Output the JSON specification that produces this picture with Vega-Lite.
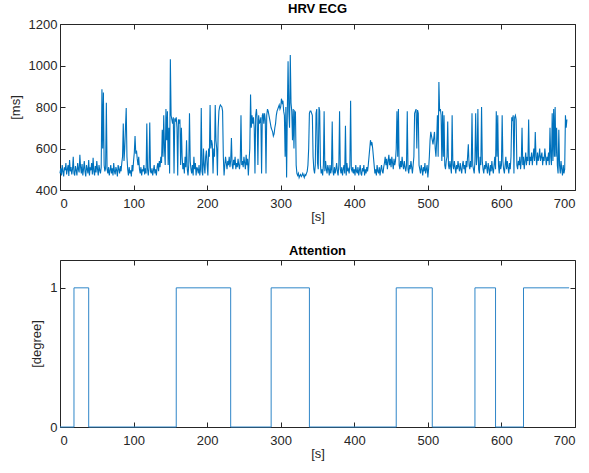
{
  "$schema": "https://vega.github.io/schema/vega-lite/v6.json",
  "padding": {"left": 8, "top": 2, "right": 3, "bottom": 3},
  "background": "white",
  "config": {
    "view": {"stroke": "#262626", "strokeWidth": 1},
    "font": "Liberation Sans",
    "axis": {"domain": false, "grid": false, "tickSize": -5, "tickColor": "#262626", "labelColor": "#262626", "labelFont": "Liberation Sans", "labelFontSize": 13, "labelPadding": 8, "titleFont": "Liberation Sans", "titleFontSize": 13, "titleFontWeight": "normal", "titleColor": "#262626", "titlePadding": 6},
    "axisX": {"labelPadding": 12, "titlePadding": 0},
    "title": {"font": "Liberation Sans", "fontSize": 13, "fontWeight": "bold", "color": "#000000", "offset": 2}
  },
  "spacing": 20,
  "datasets": {
    "hrv": [
{"t":0,"v":480},{"t":1,"v":505},{"t":2,"v":470},{"t":3,"v":520},{"t":4,"v":490},{"t":5,"v":465},{"t":6,"v":510},{"t":7,"v":495},{"t":8,"v":530},{"t":9,"v":475},
{"t":10,"v":500},{"t":11,"v":520},{"t":12,"v":468},{"t":13,"v":545},{"t":14,"v":490},{"t":15,"v":510},{"t":16,"v":475},{"t":17,"v":500},{"t":18,"v":560},{"t":19,"v":480},
{"t":20,"v":470},{"t":21,"v":515},{"t":22,"v":495},{"t":23,"v":470},{"t":24,"v":530},{"t":25,"v":500},{"t":26,"v":485},{"t":27,"v":570},{"t":28,"v":510},{"t":29,"v":480},
{"t":30,"v":525},{"t":31,"v":470},{"t":32,"v":500},{"t":33,"v":540},{"t":34,"v":490},{"t":35,"v":465},{"t":36,"v":520},{"t":37,"v":500},{"t":38,"v":480},{"t":39,"v":545},
{"t":40,"v":470},{"t":41,"v":510},{"t":42,"v":495},{"t":43,"v":530},{"t":44,"v":475},{"t":45,"v":555},{"t":46,"v":490},{"t":47,"v":470},{"t":48,"v":515},{"t":49,"v":485},
{"t":50,"v":540},{"t":51,"v":500},{"t":52,"v":470},{"t":53,"v":520},{"t":54,"v":495},{"t":55,"v":480},{"t":56,"v":510},{"t":57,"v":885},{"t":58,"v":600},{"t":59,"v":870},
{"t":60,"v":520},{"t":61,"v":490},{"t":62,"v":505},{"t":63,"v":820},{"t":64,"v":500},{"t":65,"v":480},{"t":66,"v":510},{"t":67,"v":470},{"t":68,"v":495},{"t":69,"v":520},
{"t":70,"v":480},{"t":71,"v":505},{"t":72,"v":470},{"t":73,"v":530},{"t":74,"v":490},{"t":75,"v":475},{"t":76,"v":510},{"t":77,"v":495},{"t":78,"v":465},{"t":79,"v":520},
{"t":80,"v":500},{"t":81,"v":480},{"t":82,"v":515},{"t":83,"v":490},{"t":84,"v":530},{"t":85,"v":560},{"t":86,"v":720},{"t":87,"v":540},{"t":88,"v":600},{"t":89,"v":700},
{"t":90,"v":795},{"t":91,"v":560},{"t":92,"v":500},{"t":93,"v":470},{"t":94,"v":510},{"t":95,"v":480},{"t":96,"v":495},{"t":97,"v":465},{"t":98,"v":520},{"t":99,"v":490},
{"t":100,"v":540},{"t":101,"v":580},{"t":102,"v":660},{"t":103,"v":575},{"t":104,"v":590},{"t":105,"v":550},{"t":106,"v":520},{"t":107,"v":560},{"t":108,"v":500},{"t":109,"v":480},
{"t":110,"v":510},{"t":111,"v":470},{"t":112,"v":500},{"t":113,"v":490},{"t":114,"v":520},{"t":115,"v":475},{"t":116,"v":505},{"t":117,"v":480},{"t":118,"v":720},{"t":119,"v":500},
{"t":120,"v":470},{"t":121,"v":510},{"t":122,"v":725},{"t":123,"v":490},{"t":124,"v":480},{"t":125,"v":505},{"t":126,"v":470},{"t":127,"v":495},{"t":128,"v":520},{"t":129,"v":480},
{"t":130,"v":500},{"t":131,"v":470},{"t":132,"v":510},{"t":133,"v":530},{"t":134,"v":490},{"t":135,"v":540},{"t":136,"v":510},{"t":137,"v":560},{"t":138,"v":530},{"t":139,"v":690},
{"t":140,"v":560},{"t":141,"v":760},{"t":142,"v":600},{"t":143,"v":520},{"t":144,"v":790},{"t":145,"v":640},{"t":146,"v":780},{"t":147,"v":520},{"t":148,"v":700},{"t":149,"v":480},
{"t":150,"v":1030},{"t":151,"v":760},{"t":152,"v":740},{"t":153,"v":720},{"t":154,"v":750},{"t":155,"v":480},{"t":156,"v":745},{"t":157,"v":730},{"t":158,"v":750},{"t":159,"v":700},
{"t":160,"v":470},{"t":161,"v":740},{"t":162,"v":720},{"t":163,"v":740},{"t":164,"v":520},{"t":165,"v":700},{"t":166,"v":560},{"t":167,"v":500},{"t":168,"v":530},{"t":169,"v":480},
{"t":170,"v":560},{"t":171,"v":510},{"t":172,"v":640},{"t":173,"v":500},{"t":174,"v":470},{"t":175,"v":520},{"t":176,"v":770},{"t":177,"v":540},{"t":178,"v":500},{"t":179,"v":480},
{"t":180,"v":520},{"t":181,"v":470},{"t":182,"v":560},{"t":183,"v":500},{"t":184,"v":530},{"t":185,"v":470},{"t":186,"v":510},{"t":187,"v":500},{"t":188,"v":480},{"t":189,"v":520},
{"t":190,"v":470},{"t":191,"v":500},{"t":192,"v":795},{"t":193,"v":490},{"t":194,"v":470},{"t":195,"v":600},{"t":196,"v":520},{"t":197,"v":480},{"t":198,"v":560},{"t":199,"v":590},
{"t":200,"v":520},{"t":201,"v":470},{"t":202,"v":600},{"t":203,"v":560},{"t":204,"v":810},{"t":205,"v":600},{"t":206,"v":640},{"t":207,"v":620},{"t":208,"v":480},{"t":209,"v":600},
{"t":210,"v":560},{"t":211,"v":810},{"t":212,"v":640},{"t":213,"v":600},{"t":214,"v":470},{"t":215,"v":700},{"t":216,"v":780},{"t":217,"v":800},{"t":218,"v":810},{"t":219,"v":805},
{"t":220,"v":800},{"t":221,"v":780},{"t":222,"v":560},{"t":223,"v":470},{"t":224,"v":520},{"t":225,"v":560},{"t":226,"v":530},{"t":227,"v":500},{"t":228,"v":540},{"t":229,"v":520},
{"t":230,"v":560},{"t":231,"v":510},{"t":232,"v":540},{"t":233,"v":650},{"t":234,"v":520},{"t":235,"v":500},{"t":236,"v":545},{"t":237,"v":520},{"t":238,"v":560},{"t":239,"v":500},
{"t":240,"v":530},{"t":241,"v":510},{"t":242,"v":550},{"t":243,"v":520},{"t":244,"v":500},{"t":245,"v":540},{"t":246,"v":760},{"t":247,"v":520},{"t":248,"v":540},{"t":249,"v":510},
{"t":250,"v":560},{"t":251,"v":530},{"t":252,"v":500},{"t":253,"v":570},{"t":254,"v":520},{"t":255,"v":550},{"t":256,"v":470},{"t":257,"v":540},{"t":258,"v":600},{"t":259,"v":860},
{"t":260,"v":700},{"t":261,"v":760},{"t":262,"v":720},{"t":263,"v":750},{"t":264,"v":700},{"t":265,"v":480},{"t":266,"v":760},{"t":267,"v":790},{"t":268,"v":740},{"t":269,"v":520},
{"t":270,"v":760},{"t":271,"v":720},{"t":272,"v":730},{"t":273,"v":750},{"t":274,"v":480},{"t":275,"v":760},{"t":276,"v":770},{"t":277,"v":720},{"t":278,"v":770},{"t":279,"v":740},
{"t":280,"v":480},{"t":281,"v":760},{"t":282,"v":790},{"t":283,"v":780},{"t":284,"v":760},{"t":285,"v":740},{"t":286,"v":720},{"t":287,"v":700},{"t":288,"v":690},{"t":289,"v":680},
{"t":290,"v":660},{"t":291,"v":670},{"t":292,"v":700},{"t":293,"v":720},{"t":294,"v":760},{"t":295,"v":780},{"t":296,"v":790},{"t":297,"v":800},{"t":298,"v":810},{"t":299,"v":790},
{"t":300,"v":800},{"t":301,"v":840},{"t":302,"v":820},{"t":303,"v":830},{"t":304,"v":780},{"t":305,"v":760},{"t":306,"v":560},{"t":307,"v":800},{"t":308,"v":460},{"t":309,"v":780},
{"t":310,"v":1020},{"t":311,"v":780},{"t":312,"v":700},{"t":313,"v":1050},{"t":314,"v":820},{"t":315,"v":780},{"t":316,"v":640},{"t":317,"v":790},{"t":318,"v":600},{"t":319,"v":780},
{"t":320,"v":775},{"t":321,"v":520},{"t":322,"v":480},{"t":323,"v":470},{"t":324,"v":480},{"t":325,"v":460},{"t":326,"v":470},{"t":327,"v":475},{"t":328,"v":465},{"t":329,"v":470},
{"t":330,"v":480},{"t":331,"v":470},{"t":332,"v":460},{"t":333,"v":475},{"t":334,"v":470},{"t":335,"v":480},{"t":336,"v":490},{"t":337,"v":520},{"t":338,"v":600},{"t":339,"v":770},
{"t":340,"v":780},{"t":341,"v":780},{"t":342,"v":770},{"t":343,"v":760},{"t":344,"v":560},{"t":345,"v":500},{"t":346,"v":480},{"t":347,"v":520},{"t":348,"v":770},{"t":349,"v":790},
{"t":350,"v":530},{"t":351,"v":500},{"t":352,"v":800},{"t":353,"v":780},{"t":354,"v":520},{"t":355,"v":480},{"t":356,"v":500},{"t":357,"v":470},{"t":358,"v":520},{"t":359,"v":780},
{"t":360,"v":490},{"t":361,"v":540},{"t":362,"v":500},{"t":363,"v":480},{"t":364,"v":520},{"t":365,"v":500},{"t":366,"v":470},{"t":367,"v":520},{"t":368,"v":480},{"t":369,"v":500},
{"t":370,"v":730},{"t":371,"v":490},{"t":372,"v":470},{"t":373,"v":510},{"t":374,"v":480},{"t":375,"v":500},{"t":376,"v":530},{"t":377,"v":490},{"t":378,"v":470},{"t":379,"v":520},
{"t":380,"v":780},{"t":381,"v":500},{"t":382,"v":480},{"t":383,"v":510},{"t":384,"v":470},{"t":385,"v":500},{"t":386,"v":520},{"t":387,"v":480},{"t":388,"v":710},{"t":389,"v":470},
{"t":390,"v":530},{"t":391,"v":490},{"t":392,"v":500},{"t":393,"v":480},{"t":394,"v":520},{"t":395,"v":830},{"t":396,"v":500},{"t":397,"v":490},{"t":398,"v":510},{"t":399,"v":480},
{"t":400,"v":500},{"t":401,"v":470},{"t":402,"v":520},{"t":403,"v":490},{"t":404,"v":480},{"t":405,"v":510},{"t":406,"v":470},{"t":407,"v":495},{"t":408,"v":520},{"t":409,"v":480},
{"t":410,"v":470},{"t":411,"v":505},{"t":412,"v":490},{"t":413,"v":520},{"t":414,"v":470},{"t":415,"v":500},{"t":416,"v":480},{"t":417,"v":510},{"t":418,"v":490},{"t":419,"v":520},
{"t":420,"v":560},{"t":421,"v":600},{"t":422,"v":640},{"t":423,"v":620},{"t":424,"v":630},{"t":425,"v":600},{"t":426,"v":560},{"t":427,"v":520},{"t":428,"v":480},{"t":429,"v":500},
{"t":430,"v":470},{"t":431,"v":520},{"t":432,"v":490},{"t":433,"v":480},{"t":434,"v":510},{"t":435,"v":470},{"t":436,"v":500},{"t":437,"v":520},{"t":438,"v":490},{"t":439,"v":480},
{"t":440,"v":510},{"t":441,"v":530},{"t":442,"v":560},{"t":443,"v":520},{"t":444,"v":550},{"t":445,"v":500},{"t":446,"v":540},{"t":447,"v":570},{"t":448,"v":520},{"t":449,"v":550},
{"t":450,"v":510},{"t":451,"v":560},{"t":452,"v":530},{"t":453,"v":500},{"t":454,"v":550},{"t":455,"v":520},{"t":456,"v":540},{"t":457,"v":600},{"t":458,"v":780},{"t":459,"v":560},
{"t":460,"v":790},{"t":461,"v":520},{"t":462,"v":500},{"t":463,"v":540},{"t":464,"v":510},{"t":465,"v":560},{"t":466,"v":520},{"t":467,"v":500},{"t":468,"v":540},{"t":469,"v":510},
{"t":470,"v":490},{"t":471,"v":520},{"t":472,"v":780},{"t":473,"v":500},{"t":474,"v":480},{"t":475,"v":520},{"t":476,"v":500},{"t":477,"v":540},{"t":478,"v":510},{"t":479,"v":480},
{"t":480,"v":520},{"t":481,"v":560},{"t":482,"v":770},{"t":483,"v":780},{"t":484,"v":790},{"t":485,"v":600},{"t":486,"v":785},{"t":487,"v":770},{"t":488,"v":520},{"t":489,"v":500},
{"t":490,"v":480},{"t":491,"v":520},{"t":492,"v":500},{"t":493,"v":470},{"t":494,"v":510},{"t":495,"v":490},{"t":496,"v":530},{"t":497,"v":480},{"t":498,"v":500},{"t":499,"v":520},
{"t":500,"v":460},{"t":501,"v":500},{"t":502,"v":560},{"t":503,"v":640},{"t":504,"v":680},{"t":505,"v":660},{"t":506,"v":640},{"t":507,"v":620},{"t":508,"v":650},{"t":509,"v":680},
{"t":510,"v":600},{"t":511,"v":560},{"t":512,"v":640},{"t":513,"v":760},{"t":514,"v":560},{"t":515,"v":920},{"t":516,"v":780},{"t":517,"v":790},{"t":518,"v":760},{"t":519,"v":540},
{"t":520,"v":780},{"t":521,"v":560},{"t":522,"v":760},{"t":523,"v":520},{"t":524,"v":500},{"t":525,"v":540},{"t":526,"v":560},{"t":527,"v":730},{"t":528,"v":520},{"t":529,"v":500},
{"t":530,"v":540},{"t":531,"v":510},{"t":532,"v":480},{"t":533,"v":760},{"t":534,"v":520},{"t":535,"v":500},{"t":536,"v":540},{"t":537,"v":510},{"t":538,"v":480},{"t":539,"v":520},
{"t":540,"v":500},{"t":541,"v":540},{"t":542,"v":510},{"t":543,"v":490},{"t":544,"v":530},{"t":545,"v":500},{"t":546,"v":480},{"t":547,"v":520},{"t":548,"v":540},{"t":549,"v":500},
{"t":550,"v":520},{"t":551,"v":480},{"t":552,"v":540},{"t":553,"v":510},{"t":554,"v":560},{"t":555,"v":620},{"t":556,"v":520},{"t":557,"v":500},{"t":558,"v":540},{"t":559,"v":510},
{"t":560,"v":770},{"t":561,"v":520},{"t":562,"v":500},{"t":563,"v":480},{"t":564,"v":540},{"t":565,"v":770},{"t":566,"v":520},{"t":567,"v":560},{"t":568,"v":790},{"t":569,"v":500},
{"t":570,"v":480},{"t":571,"v":560},{"t":572,"v":520},{"t":573,"v":800},{"t":574,"v":540},{"t":575,"v":500},{"t":576,"v":480},{"t":577,"v":520},{"t":578,"v":500},{"t":579,"v":540},
{"t":580,"v":510},{"t":581,"v":480},{"t":582,"v":530},{"t":583,"v":500},{"t":584,"v":470},{"t":585,"v":520},{"t":586,"v":490},{"t":587,"v":540},{"t":588,"v":500},{"t":589,"v":480},
{"t":590,"v":520},{"t":591,"v":560},{"t":592,"v":500},{"t":593,"v":780},{"t":594,"v":560},{"t":595,"v":760},{"t":596,"v":520},{"t":597,"v":480},{"t":598,"v":540},{"t":599,"v":500},
{"t":600,"v":520},{"t":601,"v":760},{"t":602,"v":540},{"t":603,"v":500},{"t":604,"v":480},{"t":605,"v":520},{"t":606,"v":560},{"t":607,"v":500},{"t":608,"v":540},{"t":609,"v":510},
{"t":610,"v":480},{"t":611,"v":530},{"t":612,"v":500},{"t":613,"v":560},{"t":614,"v":750},{"t":615,"v":740},{"t":616,"v":760},{"t":617,"v":480},{"t":618,"v":750},{"t":619,"v":760},
{"t":620,"v":740},{"t":621,"v":520},{"t":622,"v":500},{"t":623,"v":540},{"t":624,"v":520},{"t":625,"v":560},{"t":626,"v":500},{"t":627,"v":540},{"t":628,"v":700},{"t":629,"v":520},
{"t":630,"v":560},{"t":631,"v":500},{"t":632,"v":540},{"t":633,"v":580},{"t":634,"v":520},{"t":635,"v":560},{"t":636,"v":540},{"t":637,"v":740},{"t":638,"v":520},{"t":639,"v":560},
{"t":640,"v":540},{"t":641,"v":580},{"t":642,"v":520},{"t":643,"v":560},{"t":644,"v":600},{"t":645,"v":540},{"t":646,"v":680},{"t":647,"v":560},{"t":648,"v":520},{"t":649,"v":580},
{"t":650,"v":540},{"t":651,"v":560},{"t":652,"v":600},{"t":653,"v":540},{"t":654,"v":560},{"t":655,"v":580},{"t":656,"v":520},{"t":657,"v":560},{"t":658,"v":540},{"t":659,"v":600},
{"t":660,"v":560},{"t":661,"v":520},{"t":662,"v":560},{"t":663,"v":540},{"t":664,"v":580},{"t":665,"v":520},{"t":666,"v":700},{"t":667,"v":560},{"t":668,"v":520},{"t":669,"v":770},
{"t":670,"v":540},{"t":671,"v":790},{"t":672,"v":560},{"t":673,"v":800},{"t":674,"v":560},{"t":675,"v":700},{"t":676,"v":520},{"t":677,"v":480},{"t":678,"v":690},{"t":679,"v":520},
{"t":680,"v":480},{"t":681,"v":540},{"t":682,"v":500},{"t":683,"v":470},{"t":684,"v":520},{"t":685,"v":480},{"t":686,"v":500},{"t":687,"v":760},{"t":688,"v":700},{"t":689,"v":740}
    ],
    "att": [
      {"t": 0, "a": 0}, {"t": 19, "a": 1}, {"t": 39, "a": 0}, {"t": 158, "a": 1}, {"t": 232, "a": 0}, {"t": 287, "a": 1}, {"t": 339, "a": 0}, {"t": 457, "a": 1}, {"t": 506, "a": 0}, {"t": 564, "a": 1}, {"t": 592, "a": 0}, {"t": 630, "a": 1}, {"t": 692, "a": 1}
    ]
  },
  "vconcat": [
    {
      "title": "HRV ECG",
      "width": 515,
      "height": 166,
      "data": {"name": "hrv"},
      "layer": [
        {
          "mark": {"type": "line", "color": "#0072BD", "strokeWidth": 1.1},
          "encoding": {
            "x": {"field": "t", "type": "quantitative", "scale": {"domain": [0, 700], "nice": false, "zero": false}, "axis": {"values": [0, 100, 200, 300, 400, 500, 600, 700], "title": "[s]"}},
            "y": {"field": "v", "type": "quantitative", "scale": {"domain": [400, 1200], "nice": false, "zero": false}, "axis": {"values": [400, 600, 800, 1000, 1200], "title": "[ms]", "format": "d"}}
          }
        },
        {
          "mark": {"type": "line", "strokeOpacity": 0},
          "encoding": {
            "x": {"field": "t", "type": "quantitative", "scale": {"domain": [0, 700], "nice": false, "zero": false}, "axis": {"orient": "top", "values": [0, 100, 200, 300, 400, 500, 600, 700], "labels": false, "title": null}},
            "y": {"field": "v", "type": "quantitative", "scale": {"domain": [400, 1200], "nice": false, "zero": false}, "axis": {"orient": "right", "values": [400, 600, 800, 1000, 1200], "labels": false, "title": null}}
          }
        }
      ],
      "resolve": {"axis": {"x": "independent", "y": "independent"}}
    },
    {
      "title": "Attention",
      "width": 515,
      "height": 167,
      "data": {"name": "att"},
      "layer": [
        {
          "mark": {"type": "line", "color": "#2f86c8", "strokeWidth": 1, "interpolate": "step-after"},
          "encoding": {
            "x": {"field": "t", "type": "quantitative", "scale": {"domain": [0, 700], "nice": false, "zero": false}, "axis": {"values": [0, 100, 200, 300, 400, 500, 600, 700], "title": "[s]"}},
            "y": {"field": "a", "type": "quantitative", "scale": {"domain": [0, 1.2], "nice": false}, "axis": {"values": [0, 1], "title": "[degree]", "format": "d"}}
          }
        },
        {
          "mark": {"type": "line", "strokeOpacity": 0},
          "encoding": {
            "x": {"field": "t", "type": "quantitative", "scale": {"domain": [0, 700], "nice": false, "zero": false}, "axis": {"orient": "top", "values": [0, 100, 200, 300, 400, 500, 600, 700], "labels": false, "title": null}},
            "y": {"field": "a", "type": "quantitative", "scale": {"domain": [0, 1.2], "nice": false}, "axis": {"orient": "right", "values": [0, 1], "labels": false, "title": null}}
          }
        }
      ],
      "resolve": {"axis": {"x": "independent", "y": "independent"}}
    }
  ]
}
